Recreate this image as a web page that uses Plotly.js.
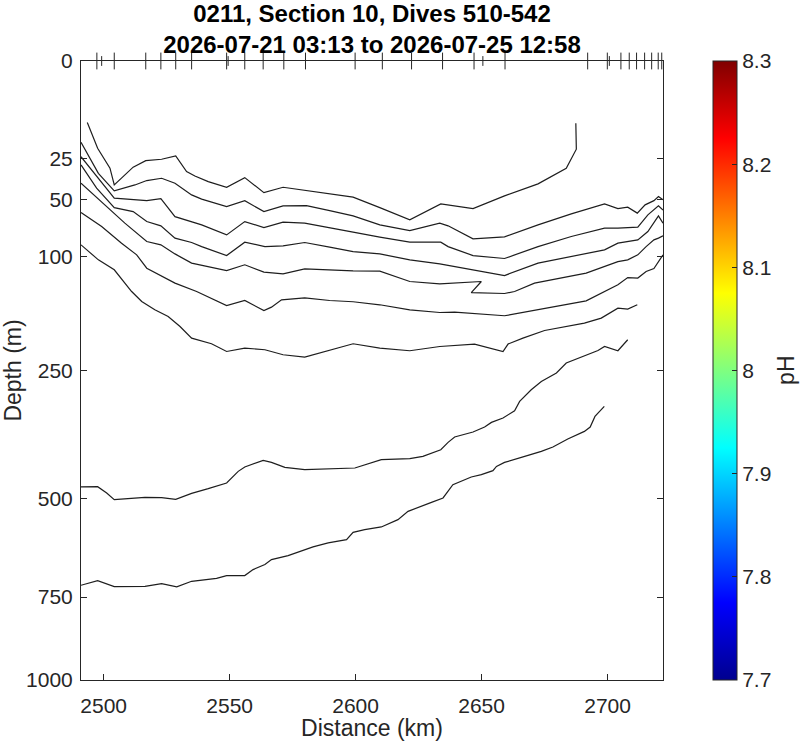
<!DOCTYPE html>
<html>
<head>
<meta charset="utf-8">
<script src="https://cdn.plot.ly/plotly-3.0.1.min.js"></script>
<style>html,body{margin:0;padding:0;background:#fff}#chart{width:800px;height:741px}</style>
</head>
<body>
<div id="chart"></div>
<script>
// ---- axis ticks ----
const xTicks = [2500, 2550, 2600, 2650, 2700];
const depthTicks = [0, 25, 50, 100, 250, 500, 750, 1000];
const depthTickText = ['0', '25', '50', '100', '250', '500', '750', '1000'];
const phTicks = [7.7, 7.8, 7.9, 8.0, 8.1, 8.2, 8.3];
const phTickText = ['7.7', '7.8', '7.9', '8', '8.1', '8.2', '8.3'];
const phRange = [7.7, 8.3];

// ---- dive positions (marks along the top) ----
const diveKm = [2497.3, 2504.2, 2516.7, 2522.7, 2528.6, 2534.9, 2548.8, 2556.0, 2563.3, 2571.5, 2580.1,
  2599.8, 2610.6, 2622.2, 2634.5, 2647.0, 2659.3, 2692.1, 2699.9, 2705.3, 2708.6, 2711.5, 2714.7,
  2717.5, 2720.1, 2721.5];
const diveKmShort = [2499.2, 2549.4, 2650.5, 2700.7];
const surfaceDepth = 0;

// ---- contour lines (distance km, depth m) ----
const c1Km = [2493.5, 2497.6, 2502.5, 2504.2, 2511.7, 2516.7, 2523.0, 2528.6, 2532.9, 2536.2, 2541.5, 2548.8, 2556.0, 2560.0, 2563.6, 2571.2, 2581.1, 2599.0, 2609.6, 2621.5, 2633.8, 2643.3, 2646.6, 2659.1, 2672.4, 2683.6, 2687.6, 2687.4];
const c1Depth = [9.9, 19.9, 30.0, 40.1, 29.4, 25.9, 25.2, 23.5, 31.9, 34.5, 38.0, 41.6, 35.5, 40.7, 45.2, 41.6, 44.0, 48.4, 56.1, 65.9, 53.3, 55.8, 56.9, 47.5, 39.4, 30.0, 20.3, 10.1];

const c2Km = [2491.0, 2497.9, 2504.2, 2512.4, 2517.1, 2523.0, 2528.3, 2534.9, 2538.9, 2548.8, 2556.0, 2563.6, 2571.2, 2580.5, 2589.7, 2599.0, 2609.6, 2621.5, 2633.4, 2636.7, 2646.6, 2659.1, 2672.4, 2685.6, 2698.8, 2704.1, 2708.0, 2711.8, 2714.9, 2718.4, 2720.2, 2722.0];
const c2Depth = [17.2, 32.9, 44.0, 40.1, 37.3, 35.9, 39.0, 46.8, 49.8, 55.3, 50.9, 59.2, 54.8, 54.6, 58.4, 62.6, 70.1, 75.0, 68.6, 70.9, 82.6, 80.7, 70.1, 61.0, 53.3, 56.9, 55.8, 60.4, 54.0, 50.9, 48.0, 50.3];

const c3Km = [2491.0, 2497.9, 2504.2, 2517.1, 2522.7, 2528.3, 2534.9, 2538.9, 2548.8, 2556.0, 2563.6, 2571.2, 2579.8, 2589.7, 2599.0, 2609.6, 2621.5, 2633.8, 2636.7, 2646.6, 2659.1, 2672.4, 2685.6, 2698.8, 2704.1, 2712.0, 2716.0, 2720.2, 2722.0];
const c3Depth = [23.9, 35.9, 49.1, 50.9, 49.4, 63.2, 67.8, 70.1, 78.9, 67.3, 72.4, 67.8, 68.6, 72.9, 76.5, 81.0, 85.7, 85.7, 89.9, 98.8, 101.8, 89.9, 80.4, 72.9, 72.9, 72.1, 61.8, 54.8, 57.9];

const c4Km = [2491.0, 2497.2, 2504.2, 2511.7, 2517.1, 2522.7, 2528.3, 2534.9, 2538.9, 2548.8, 2556.0, 2564.0, 2571.2, 2579.8, 2589.7, 2599.0, 2609.6, 2621.5, 2633.4, 2639.3, 2659.1, 2672.4, 2698.8, 2704.1, 2712.0, 2716.0, 2720.2, 2722.0];
const c4Depth = [28.2, 42.2, 56.1, 59.2, 67.3, 70.9, 81.9, 86.0, 89.9, 98.8, 85.7, 89.9, 89.2, 86.0, 90.4, 94.8, 97.1, 103.2, 107.4, 110.3, 120.1, 106.6, 93.1, 86.6, 83.5, 75.9, 62.6, 68.6];

const c5Km = [2491.0, 2501.2, 2508.4, 2517.1, 2522.7, 2528.3, 2534.9, 2548.8, 2556.0, 2563.6, 2571.2, 2579.8, 2599.0, 2609.6, 2621.5, 2633.4, 2639.3, 2649.9, 2645.9, 2659.1, 2663.1, 2671.0, 2691.5, 2704.1, 2708.0, 2712.0, 2715.3, 2718.4, 2720.2, 2722.0];
const c5Depth = [39.0, 55.3, 68.6, 85.1, 88.2, 97.1, 106.6, 114.6, 108.4, 116.3, 118.2, 112.7, 114.9, 115.2, 126.9, 129.6, 128.8, 126.9, 139.9, 141.1, 138.7, 128.8, 117.4, 105.0, 103.2, 98.1, 89.9, 83.5, 81.9, 79.8];

const c6Km = [2491.0, 2499.2, 2507.1, 2513.1, 2517.1, 2528.3, 2536.9, 2548.8, 2556.0, 2563.6, 2566.6, 2570.6, 2579.8, 2589.7, 2599.0, 2609.6, 2621.5, 2633.4, 2639.3, 2659.1, 2691.5, 2704.1, 2708.0, 2712.0, 2715.3, 2718.4, 2722.0];
const c6Depth = [60.0, 71.5, 86.6, 98.1, 112.0, 128.8, 138.7, 156.0, 149.7, 162.5, 158.1, 148.8, 146.4, 149.7, 151.3, 155.1, 161.6, 165.1, 164.6, 169.4, 150.1, 130.7, 122.4, 123.0, 115.7, 112.4, 98.1];

const c7Km = [2491.0, 2497.9, 2504.2, 2511.1, 2515.1, 2520.3, 2525.6, 2530.3, 2534.9, 2542.8, 2548.8, 2556.0, 2564.0, 2571.2, 2579.8, 2589.7, 2599.0, 2609.6, 2621.5, 2633.4, 2647.2, 2658.5, 2660.5, 2666.4, 2675.0, 2690.8, 2697.5, 2704.1, 2708.0, 2711.8];
const c7Depth = [88.2, 103.2, 113.8, 138.7, 151.0, 161.6, 170.4, 184.0, 200.4, 208.7, 220.2, 215.1, 217.6, 225.2, 228.8, 218.7, 208.7, 215.1, 219.1, 212.7, 209.1, 220.2, 209.1, 200.4, 189.5, 179.3, 172.5, 159.4, 160.7, 155.1];

const c8Km = [2491.0, 2497.6, 2501.2, 2504.2, 2516.4, 2523.0, 2528.6, 2534.9, 2541.5, 2548.8, 2553.4, 2556.0, 2563.3, 2566.6, 2571.9, 2579.8, 2599.7, 2610.2, 2621.5, 2626.7, 2633.8, 2636.7, 2639.3, 2646.6, 2651.2, 2653.9, 2658.5, 2663.1, 2665.1, 2669.7, 2673.7, 2679.7, 2683.6, 2690.8, 2696.2, 2698.8, 2704.1, 2708.0];
const c8Depth = [473.5, 472.9, 486.9, 502.2, 496.9, 497.6, 501.5, 487.9, 477.3, 464.7, 439.5, 430.1, 416.3, 420.5, 431.0, 435.9, 432.3, 414.8, 412.8, 408.0, 394.3, 379.6, 369.0, 359.2, 349.6, 340.9, 332.6, 319.2, 302.5, 282.0, 268.0, 254.1, 238.1, 226.8, 218.7, 212.7, 219.1, 202.8];

const c9Km = [2491.0, 2497.6, 2504.2, 2516.4, 2523.0, 2529.0, 2534.9, 2544.8, 2548.8, 2556.0, 2559.3, 2564.0, 2566.6, 2573.2, 2583.1, 2589.1, 2596.4, 2599.0, 2603.6, 2610.2, 2616.8, 2620.8, 2630.1, 2634.7, 2638.6, 2645.9, 2649.9, 2654.5, 2655.9, 2659.1, 2667.1, 2673.7, 2678.3, 2684.2, 2690.8, 2693.1, 2695.0, 2698.7];
const c9Depth = [717.4, 704.6, 720.9, 720.1, 712.7, 721.7, 706.5, 698.4, 691.1, 691.1, 675.1, 661.9, 648.8, 638.4, 616.2, 606.1, 597.8, 579.8, 573.1, 566.6, 549.0, 529.3, 508.4, 498.3, 468.4, 451.6, 446.6, 438.0, 428.9, 420.5, 408.0, 397.7, 388.8, 372.9, 358.1, 349.6, 329.7, 311.4];

// ---- style ----
const ink = '#262626';
const fontFamily = '"Liberation Sans", Arial, Helvetica, sans-serif';
const jet = [[0, 'rgb(0,0,143)'], [0.125, 'rgb(0,0,255)'], [0.375, 'rgb(0,255,255)'],
             [0.625, 'rgb(255,255,0)'], [0.875, 'rgb(255,0,0)'], [1, 'rgb(128,0,0)']];
const sq = v => Math.sqrt(v);   // square-root depth scale

const contours = [[c1Km, c1Depth], [c2Km, c2Depth], [c3Km, c3Depth], [c4Km, c4Depth], [c5Km, c5Depth],
                  [c6Km, c6Depth], [c7Km, c7Depth], [c8Km, c8Depth], [c9Km, c9Depth]];

const traces = contours.map(([km, d]) => ({
  type: 'scatter', mode: 'lines', x: km, y: d.map(sq),
  line: {color: '#1e1e1e', width: 1.2}, hoverinfo: 'skip', showlegend: false
}));

traces.push({
  type: 'scatter', mode: 'markers', x: diveKm, y: diveKm.map(() => sq(surfaceDepth)),
  marker: {symbol: 'line-ns', size: 12, line: {width: 1, color: ink}},
  cliponaxis: false, hoverinfo: 'skip', showlegend: false
});
traces.push({
  type: 'scatter', mode: 'markers', x: diveKmShort, y: diveKmShort.map(() => sq(surfaceDepth)),
  marker: {symbol: 'line-ns', size: 7, line: {width: 1, color: ink}},
  cliponaxis: false, hoverinfo: 'skip', showlegend: false
});

// colour bar carrier
traces.push({
  type: 'scatter', mode: 'markers', x: [null], y: [null], hoverinfo: 'skip', showlegend: false,
  marker: {
    color: phRange, cmin: phRange[0], cmax: phRange[1], colorscale: jet, showscale: true,
    colorbar: {
      xref: 'paper', x: (714 - 81) / 582.5, xanchor: 'left', xpad: 0,
      yref: 'paper', y: 1, yanchor: 'top', ypad: 0,
      lenmode: 'fraction', len: 1, thickness: 24, thicknessmode: 'pixels',
      outlinewidth: 1, outlinecolor: ink,
      tickvals: phTicks, ticktext: phTickText, tickprefix: '\u00a0',
      ticks: 'inside', ticklen: 5, tickcolor: ink,
      tickfont: {size: 21, color: ink, family: fontFamily}
    }
  }
});

const layout = {
  width: 800, height: 741,
  margin: {l: 81, r: 136.5, t: 61, b: 60.5, pad: 0},
  paper_bgcolor: '#ffffff', plot_bgcolor: '#ffffff',
  font: {family: fontFamily, size: 21, color: ink},
  showlegend: false,
  title: {
    text: '0211, Section 10, Dives 510-542<br>2026-07-21 03:13 to 2026-07-25 12:58',
    font: {size: 24, weight: 'bold', color: '#000000', family: fontFamily},
    xref: 'paper', x: 0.5, xanchor: 'center',
    yref: 'paper', y: 1, yanchor: 'bottom', pad: {b: 39}
  },
  annotations: [{
    text: 'pH', xref: 'paper', yref: 'paper', x: (786 - 81) / 582.5, y: 0.5,
    xanchor: 'center', yanchor: 'middle', textangle: -90, showarrow: false,
    font: {size: 23, color: ink, family: fontFamily}
  }],
  xaxis: {
    range: [2491, 2722], tickvals: xTicks, ticktext: xTicks.map(String),
    ticks: 'inside', ticklen: 6, tickwidth: 1, tickcolor: ink,
    showline: true, linecolor: ink, linewidth: 1, mirror: true,
    showgrid: false, zeroline: false, automargin: false,
    tickfont: {size: 21, color: ink}, ticklabelstandoff: 7,
    title: {text: 'Distance (km)', font: {size: 23, color: ink}, standoff: 3}
  },
  yaxis: {
    range: [sq(1000), sq(0)], tickvals: depthTicks.map(sq), ticktext: depthTickText,
    ticks: 'inside', ticklen: 6, tickwidth: 1, tickcolor: ink,
    showline: true, linecolor: ink, linewidth: 1, mirror: 'ticks',
    showgrid: false, zeroline: false, automargin: false,
    tickfont: {size: 21, color: ink}, ticklabelstandoff: 3,
    title: {text: 'Depth (m)', font: {size: 23, color: ink}, standoff: 5}
  }
};

Plotly.newPlot('chart', traces, layout, {displayModeBar: false, staticPlot: true});
</script>
</body>
</html>
